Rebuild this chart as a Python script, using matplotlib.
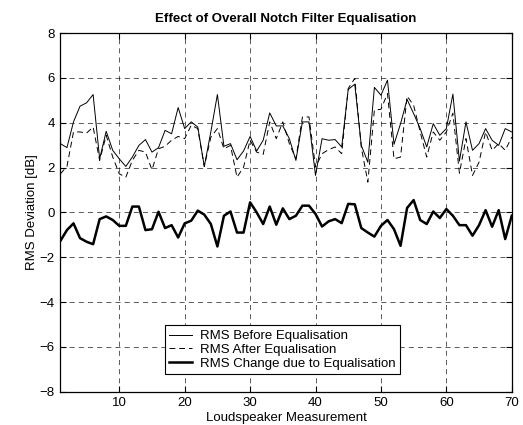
import matplotlib
matplotlib.use("Agg")
import matplotlib.pyplot as plt
import numpy as np

plt.rcParams['font.family'] = ['Liberation Sans', 'DejaVu Sans']

measurement = list(range(1, 71))

rms_before = [3.07, 2.89, 4.04, 4.74, 4.89, 5.26, 2.39, 3.62, 2.77, 2.39,
              2.05, 2.47, 2.99, 3.25, 2.69, 2.89, 3.66, 3.51, 4.68, 3.74,
              4.04, 3.81, 2.05, 3.60, 5.26, 2.95, 3.07, 2.35, 2.74, 3.39,
              2.74, 3.22, 4.44, 3.86, 3.86, 3.29, 2.32, 4.04, 4.04, 1.65,
              3.29, 3.22, 3.25, 2.92, 5.49, 5.72, 2.99, 2.24, 5.58, 5.23,
              5.90, 3.04, 3.96, 5.04, 4.41, 3.74, 2.92, 3.96, 3.44, 3.74,
              5.28, 2.29, 4.04, 2.77, 3.07, 3.74, 3.22, 2.99, 3.74, 3.59]

rms_after = [1.72, 2.05, 3.59, 3.59, 3.54, 3.81, 2.32, 3.44, 2.47, 1.72,
             1.57, 2.32, 2.77, 2.69, 1.90, 2.84, 2.95, 3.22, 3.39, 3.29,
             3.89, 3.74, 2.05, 3.36, 3.74, 2.84, 2.99, 1.57, 2.02, 3.22,
             2.69, 2.59, 4.04, 3.29, 4.04, 3.07, 2.39, 4.26, 4.26, 2.02,
             2.62, 2.80, 2.92, 2.62, 5.53, 5.98, 2.90, 1.35, 4.57, 4.60,
             5.30, 2.39, 2.47, 5.19, 4.78, 3.59, 2.47, 3.59, 3.22, 3.59,
             4.43, 1.75, 3.29, 1.65, 2.24, 3.59, 2.77, 3.07, 2.77, 3.36]

rms_change = [-1.27, -0.79, -0.49, -1.15, -1.31, -1.42, -0.30, -0.18, -0.34, -0.60,
              -0.60, 0.26, 0.26, -0.79, -0.75, 0.03, -0.70, -0.57, -1.12, -0.49,
              -0.37, 0.08, -0.10, -0.52, -1.52, -0.15, 0.04, -0.90, -0.90, 0.45,
              0.00, -0.52, 0.26, -0.55, 0.18, -0.30, -0.15, 0.30, 0.30, -0.07,
              -0.63, -0.40, -0.30, -0.48, 0.38, 0.36, -0.70, -0.90, -1.08, -0.60,
              -0.34, -0.75, -1.49, 0.20, 0.55, -0.34, -0.52, 0.04, -0.25, 0.15,
              -0.15, -0.57, -0.57, -1.04, -0.57, 0.10, -0.64, 0.10, -1.19, -0.15]

xticks = [10, 20, 30, 40, 50, 60, 70]
yticks = [-8, -6, -4, -2, 0, 2, 4, 6, 8]

FS = 9.5

fig = plt.figure(figsize=(5.23, 4.25), dpi=100)
ax = fig.add_axes([0.1155, 0.0785, 0.8630, 0.8435])

ax.plot(measurement, rms_before, color='black', lw=0.7, label='RMS Before Equalisation')
ax.plot(measurement, rms_after, color='black', lw=0.7, ls=(0, (6, 4)), label='RMS After Equalisation')
ax.plot(measurement, rms_change, color='black', lw=1.8, label='RMS Change due to Equalisation')

ax.set_xlim(1, 70)
ax.set_ylim(-8, 8)
ax.set_xticks(xticks)
ax.set_yticks(yticks)
ax.grid(True, color='black', ls=(0, (6, 5)), lw=0.6, alpha=0.75)
ax.tick_params(direction='in', length=4, width=0.8, top=True, right=True,
               labelsize=FS, pad=4)
for s in ax.spines.values():
    s.set_linewidth(0.9)

ax.set_title('Effect of Overall Notch Filter Equalisation', fontsize=FS,
             fontweight='bold', pad=8)
ax.set_xlabel('Loudspeaker Measurement', fontsize=FS, labelpad=2)
ax.set_ylabel('RMS Deviation [dB]', fontsize=FS, labelpad=1)

leg = ax.legend(loc='lower center', bbox_to_anchor=(0.492, 0.048), fontsize=FS,
                frameon=True, fancybox=False, edgecolor='black', framealpha=1,
                borderpad=0.35, labelspacing=0.12, handlelength=1.75,
                handletextpad=0.6, borderaxespad=0)
leg.get_frame().set_linewidth(0.8)

fig.savefig('out.png', dpi=100)
